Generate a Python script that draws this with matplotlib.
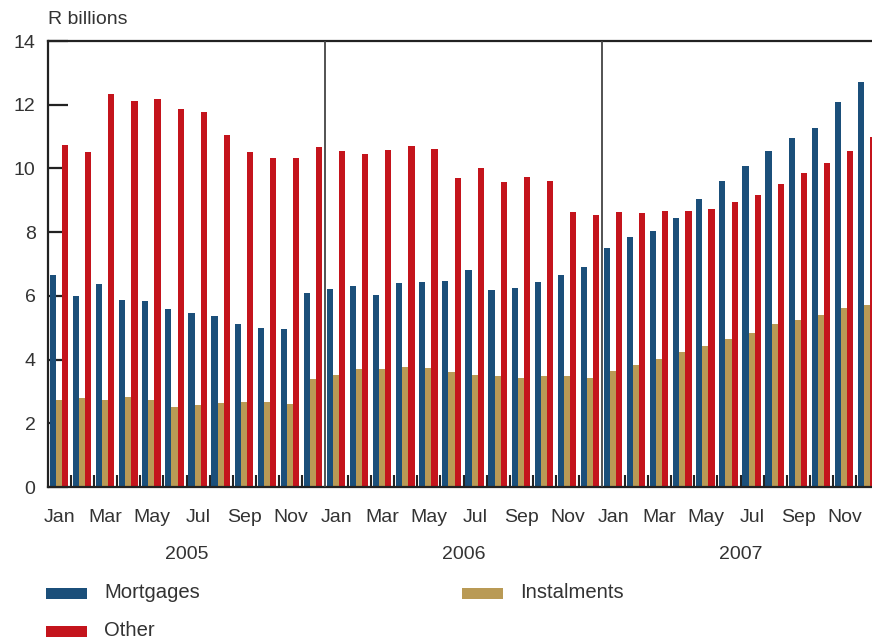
import matplotlib
matplotlib.use("Agg")
import matplotlib.pyplot as plt
from matplotlib.patches import Rectangle
import numpy as np

plt.rcParams['font.family'] = ['Liberation Sans', 'DejaVu Sans']

years = ["2005", "2006", "2007"]
months = ["Jan", "Feb", "Mar", "Apr", "May", "Jun", "Jul", "Aug", "Sep", "Oct", "Nov", "Dec"]
tick_months = ["Jan", "Mar", "May", "Jul", "Sep", "Nov"]

mortgages = [6.65, 6.00, 6.37, 5.87, 5.84, 5.59, 5.46, 5.37, 5.12, 4.99, 4.96, 6.09,
             6.21, 6.31, 6.03, 6.40, 6.43, 6.47, 6.81, 6.18, 6.25, 6.43, 6.65, 6.90,
             7.50, 7.85, 8.04, 8.44, 9.04, 9.60, 10.08, 10.55, 10.95, 11.27, 12.08, 12.71]
instalments = [2.73, 2.79, 2.73, 2.82, 2.73, 2.51, 2.57, 2.64, 2.67, 2.67, 2.60, 3.39,
               3.52, 3.70, 3.70, 3.77, 3.74, 3.61, 3.52, 3.48, 3.42, 3.48, 3.48, 3.42,
               3.64, 3.83, 4.02, 4.24, 4.43, 4.65, 4.83, 5.12, 5.24, 5.40, 5.62, 5.71]
other = [10.73, 10.51, 12.34, 12.12, 12.18, 11.86, 11.77, 11.05, 10.51, 10.33, 10.33, 10.67,
         10.55, 10.45, 10.58, 10.70, 10.61, 9.70, 10.01, 9.57, 9.73, 9.60, 8.63, 8.54,
         8.63, 8.60, 8.66, 8.66, 8.73, 8.95, 9.17, 9.51, 9.86, 10.17, 10.55, 10.99]

series = [("Mortgages", mortgages, "#1b4f7a"),
          ("Instalments", instalments, "#b99a55"),
          ("Other", other, "#c4141c")]

W, H = 872, 638
fig = plt.figure(figsize=(W / 100, H / 100), dpi=100)
ax = fig.add_axes([48 / W, 1 - 487 / H, 831 / W, 446 / H])

txt = "#333333"
fs = 14
n = len(mortgages)
x = np.arange(n)
bw = 0.265
for k, (name, vals, col) in enumerate(series):
    ax.bar(x + 0.48 + (k - 1) * bw, vals, width=bw, color=col, linewidth=0, zorder=2)

ax.set_xlim(0, n)
ax.set_ylim(0, 14)
ax.set_yticks(np.arange(0, 15, 2))
ax.tick_params(axis='y', direction='in', length=14.4, width=1.6, color="#222222",
               labelsize=fs, labelcolor=txt, pad=9)

# x ticks: labels at month centers, small ticks at month boundaries
lab_pos = [i + 0.5 for i in range(n) if months[i % 12] in tick_months]
lab_txt = [months[i % 12] for i in range(n) if months[i % 12] in tick_months]
ax.set_xticks(lab_pos)
ax.set_xticklabels(lab_txt)
ax.tick_params(axis='x', which='major', length=0, labelsize=fs, labelcolor=txt, pad=15.5)
minor = [i for i in range(1, n) if i % 12 != 0]
ax.set_xticks(minor, minor=True)
ax.tick_params(axis='x', which='minor', direction='in', length=8.6, width=1.5, color="#222222")

# year separators
for b in range(12, n, 12):
    ax.axvline(b, color="#444444", linewidth=1.3, zorder=3)

# year labels
for j, yr in enumerate(years):
    ax.text(j * 12 + 6, -0.1505, yr, transform=ax.get_xaxis_transform(), ha='center',
            va='center', fontsize=fs, color=txt)

for s in ['left', 'top', 'bottom']:
    ax.spines[s].set_linewidth(1.6)
    ax.spines[s].set_color("#222222")
ax.spines['right'].set_visible(False)

fig.text(48 / W, 1 - 20 / H, "R billions", ha='left', va='center', fontsize=fs, color=txt)

# legend
leg = [(46, 593, "Mortgages", "#1b4f7a"), (462, 593, "Instalments", "#b99a55"),
       (46, 631, "Other", "#c4141c")]
for lx, ly, name, col in leg:
    fig.add_artist(Rectangle((lx / W, 1 - (ly + 5.5) / H), 41 / W, 11 / H,
                             transform=fig.transFigure, color=col, linewidth=0))
    fig.text((lx + 58) / W, 1 - ly / H, name, ha='left', va='center', fontsize=14.6, color=txt)

fig.savefig("out.png", dpi=100)
